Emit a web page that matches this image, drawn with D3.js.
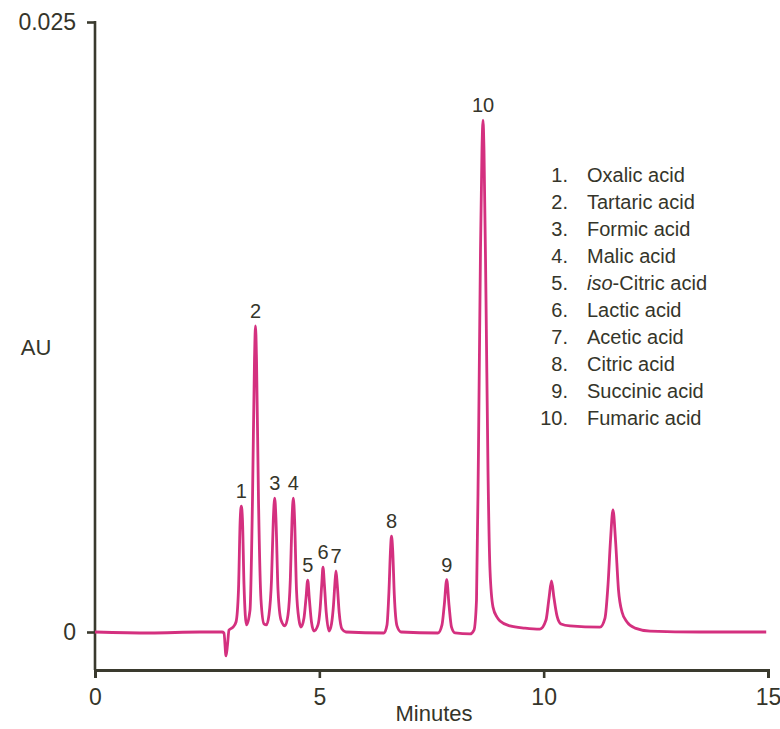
<!DOCTYPE html>
<html>
<head>
<meta charset="utf-8">
<script src="https://cdn.jsdelivr.net/npm/d3@7"></script>
<style>
  body { margin: 0; background: #fff; }
  text { font-family: "Liberation Sans", Arial, sans-serif; fill: #35352a; }
</style>
</head>
<body>
<div id="chart"></div>
<script>
// trace: retention time (min) and absorbance (AU)
var traceTime = [0, 1.226, 2.340, 2.831, 2.875, 2.920, 2.953, 2.987, 3.076, 3.143,
  3.198, 3.236, 3.261, 3.287, 3.321, 3.377, 3.455, 3.510, 3.555, 3.577,
  3.600, 3.644, 3.700, 3.767, 3.822, 3.878, 3.934, 3.974, 4.005, 4.034,
  4.079, 4.146, 4.235, 4.302, 4.353, 4.391, 4.420, 4.449, 4.491, 4.547,
  4.591, 4.658, 4.703, 4.741, 4.776, 4.825, 4.881, 4.970, 5.015, 5.053,
  5.082, 5.113, 5.155, 5.215, 5.271, 5.316, 5.345, 5.371, 5.400, 5.443,
  5.505, 5.594, 6.441, 6.508, 6.553, 6.586, 6.608, 6.635, 6.671, 6.731,
  6.820, 7.645, 7.734, 7.785, 7.839, 7.890, 7.946, 8.024, 8.358, 8.447,
  8.503, 8.547, 8.592, 8.625, 8.648, 8.670, 8.715, 8.759, 8.804, 8.871,
  8.960, 9.027, 9.250, 9.584, 9.918, 10.052, 10.119, 10.175, 10.230, 10.297,
  10.386, 10.587, 11.255, 11.367, 11.434, 11.490, 11.545, 11.601, 11.668, 11.746,
  11.857, 12.036, 12.370, 13.484, 14.96];
var traceAU = [0, -0.00004, 0, 0, -0.00004, -0.00098, -0.00053, 0.00008, 0.0002, 0.00041,
  0.00172, 0.00459, 0.00516, 0.00459, 0.00193, 0.00029, 0.0009, 0.00541, 0.01115, 0.01254,
  0.01115, 0.00541, 0.00131, 0.00033, 0.00029, 0.0007, 0.00213, 0.00459, 0.00549, 0.00459,
  0.00172, 0.00049, 0.00025, 0.0007, 0.00213, 0.00459, 0.00549, 0.00459, 0.00172, 0.00049,
  0.0002, 0.00057, 0.00139, 0.00213, 0.00139, 0.00041, 0.00004, 0.00029, 0.0009, 0.00193,
  0.00266, 0.00193, 0.00078, 0.00004, 0.00033, 0.00111, 0.00193, 0.0025, 0.00193, 0.00078,
  0.00012, 0, -0.00004, 0.00029, 0.00172, 0.00336, 0.00393, 0.00336, 0.00152, 0.00025,
  0, -0.00004, 0.00029, 0.00111, 0.00215, 0.00111, 0.0002, -0.00004, -0.00008, 0.00008,
  0.00131, 0.00746, 0.01566, 0.01975, 0.02098, 0.01975, 0.01361, 0.00664, 0.00254, 0.00102,
  0.00061, 0.00045, 0.00025, 0.00016, 0.00012, 0.00049, 0.00139, 0.00209, 0.00139, 0.00066,
  0.00033, 0.00025, 0.0002, 0.00057, 0.00193, 0.00377, 0.005, 0.00377, 0.00172, 0.00082,
  0.00041, 0.00016, 0.00004, 0, 0];

// numbered peaks
var peakIds = ['1', '2', '3', '4', '5', '6', '7', '8', '9', '10'];
var peakTime = [3.261, 3.577, 4.005, 4.420, 4.741, 5.082, 5.371, 6.608, 7.839, 8.648];
var peakAU = [0.00516, 0.01254, 0.00549, 0.00549, 0.00213, 0.00266, 0.0025, 0.00393, 0.00215, 0.02098];

var acids = ['Oxalic acid', 'Tartaric acid', 'Formic acid', 'Malic acid', 'iso-Citric acid',
  'Lactic acid', 'Acetic acid', 'Citric acid', 'Succinic acid', 'Fumaric acid'];

var xTicks = [0, 5, 10, 15];
var yTicks = [0, 0.025];

var width = 780, height = 729;
var ink = '#3a3a2e';

var svg = d3.select('#chart')
    .append('svg')
    .attr('width', width)
    .attr('height', height);

var x = d3.scaleLinear().domain([0, 15]).range([95, 768]);
var y = d3.scaleLinear().domain([0, 0.025]).range([632, 22]);
var axisY = 670;

// y axis: line runs down to the x axis
svg.append('line')
    .attr('x1', x(0)).attr('x2', x(0))
    .attr('y1', y(0.025) - 1).attr('y2', axisY)
    .attr('stroke', ink).attr('stroke-width', 2.6);

var yAxis = svg.append('g')
    .attr('transform', `translate(${x(0)},0)`)
    .call(d3.axisLeft(y).tickValues(yTicks).tickSize(8).tickPadding(11)
        .tickFormat(d => d === 0 ? '0' : '0.025'));
yAxis.select('.domain').remove();
yAxis.selectAll('line').attr('stroke', ink).attr('stroke-width', 2.6);
yAxis.selectAll('text').style('font-size', '23px').attr('fill', ink);

var xAxis = svg.append('g')
    .attr('transform', `translate(0,${axisY})`)
    .call(d3.axisBottom(x).tickValues(xTicks).tickSize(8).tickPadding(11));
xAxis.select('.domain').attr('stroke', ink).attr('stroke-width', 3);
xAxis.selectAll('line').attr('stroke', ink).attr('stroke-width', 2.6);
xAxis.selectAll('text').style('font-size', '23px').attr('fill', ink);

svg.append('text')
    .attr('x', 434).attr('y', 721)
    .style('font-size', '22px')
    .attr('text-anchor', 'middle')
    .text('Minutes');

svg.append('text')
    .attr('x', 36).attr('y', 355)
    .style('font-size', '22px')
    .attr('text-anchor', 'middle')
    .text('AU');

// chromatogram trace
var pts = traceTime.map((t, i) => [t, traceAU[i]]);
var line = d3.line()
    .x(d => x(d[0]))
    .y(d => y(d[1]))
    .curve(d3.curveMonotoneX);

svg.append('path')
    .datum(pts)
    .attr('d', line)
    .attr('fill', 'none')
    .attr('stroke', '#d4307f')
    .attr('stroke-width', 2.8)
    .attr('stroke-linejoin', 'round');

// peak numbers
svg.append('g')
    .selectAll('text')
    .data(peakIds)
    .join('text')
    .attr('x', (d, i) => x(peakTime[i]))
    .attr('y', (d, i) => y(peakAU[i]) - 8)
    .attr('text-anchor', 'middle')
    .style('font-size', '20px')
    .text(d => d);

// legend
var legend = svg.append('g');
acids.forEach(function(name, i) {
    var ly = 182 + i * 27;
    legend.append('text')
        .attr('x', 568).attr('y', ly)
        .attr('text-anchor', 'end')
        .style('font-size', '20px')
        .text((i + 1) + '.');
    var t = legend.append('text')
        .attr('x', 587).attr('y', ly)
        .style('font-size', '20px');
    if (name.indexOf('iso-') === 0) {
        t.append('tspan').style('font-style', 'italic').text('iso');
        t.append('tspan').text(name.slice(3));
    } else {
        t.text(name);
    }
});
</script>
</body>
</html>
